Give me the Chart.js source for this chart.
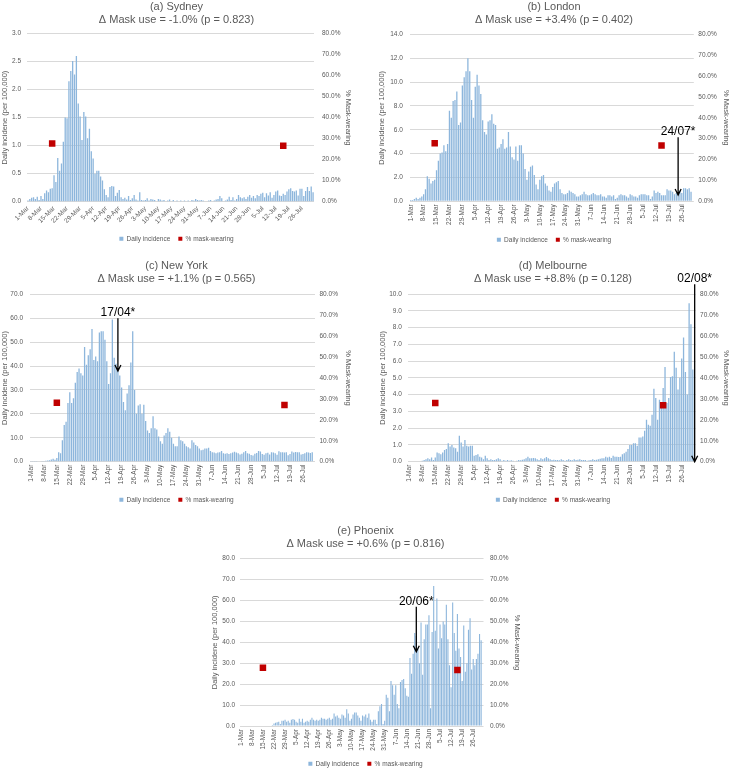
<!DOCTYPE html>
<html>
<head>
<meta charset="utf-8">
<script src="https://cdn.jsdelivr.net/npm/chart.js@4.4.0/dist/chart.umd.min.js"></script>
<style>
    body { margin: 0; background: #fff; width: 731px; height: 769px; position: relative; overflow: hidden; }
    canvas { position: absolute; }
</style>
</head>
<body>
<canvas id="sydney" width="365" height="252" style="left:0;top:0"></canvas>
<canvas id="london" width="366" height="253" style="left:365px;top:0"></canvas>
<canvas id="newyork" width="365" height="258" style="left:0;top:255px"></canvas>
<canvas id="melbourne" width="366" height="258" style="left:365px;top:255px"></canvas>
<canvas id="phoenix" width="380" height="267" style="left:180px;top:510px"></canvas>
<script>
'use strict'

// --- categories ---
const months = ['Mar', 'Apr', 'May', 'Jun', 'Jul', 'Aug'];
const monthLengths = [31, 30, 31, 30, 31, 2];
const tickLabels = ['1-Mar', '8-Mar', '15-Mar', '22-Mar', '29-Mar', '5-Apr', '12-Apr', '19-Apr', '26-Apr',
    '3-May', '10-May', '17-May', '24-May', '31-May', '7-Jun', '14-Jun', '21-Jun', '28-Jun',
    '5-Jul', '12-Jul', '19-Jul', '26-Jul'];

// --- daily incidence (per 100,000) ---
const sydneyIncidence = [
    0.02, 0.05, 0.07, 0.08, 0.05, 0.09, 0.03, 0.1, 0.05, 0.15,
    0.2, 0.17, 0.23, 0.24, 0.47, 0.35, 0.78, 0.55, 0.68, 1.07,
    1.5, 1.49, 2.15, 2.33, 2.51, 2.27, 2.6, 1.75, 1.52, 1.1,
    1.6, 1.52, 1.13, 1.3, 0.9, 0.77, 0.5, 0.55, 0.55, 0.45,
    0.38, 0.22, 0.12, 0.08, 0.26, 0.28, 0.27, 0.1, 0.16, 0.21,
    0.08, 0.05, 0.07, 0.04, 0.1, 0.03, 0.06, 0.12, 0.04, 0.02,
    0.17, 0.03, 0.02, 0.03, 0.06, 0.02, 0.05, 0.04, 0.03, 0.01,
    0.05, 0.04, 0.02, 0.03, 0.01, 0.02, 0.04, 0.01, 0.03, 0.01,
    0.02, 0.01, 0.02, 0.01, 0.02, 0.01, 0.02, 0.01, 0.03, 0.02,
    0.05, 0.03, 0.02, 0.03, 0.02, 0.01, 0.01, 0.02, 0.03, 0.01,
    0.02, 0.04, 0.05, 0.1, 0.06, 0.01, 0.02, 0.04, 0.09, 0.03,
    0.08, 0.02, 0.05, 0.12, 0.08, 0.06, 0.08, 0.05, 0.09, 0.12,
    0.07, 0.1, 0.06, 0.12, 0.1, 0.14, 0.16, 0.08, 0.15, 0.11,
    0.17, 0.07, 0.12, 0.18, 0.2, 0.11, 0.1, 0.14, 0.12, 0.18,
    0.22, 0.24, 0.19, 0.18, 0.2, 0.11, 0.23, 0.23, 0.1, 0.19,
    0.26, 0.19, 0.27, 0.17
];
const londonIncidence = [
    0.1, 0.1, 0.2, 0.3, 0.2, 0.3, 0.4, 0.6, 1.0, 2.1,
    1.9, 1.5, 1.7, 1.8, 2.6, 3.4, 4.0, 4.1, 4.7, 4.2,
    4.8, 7.6, 7.0, 8.4, 8.5, 9.2, 6.4, 6.6, 9.7, 10.4,
    10.9, 12.0, 10.9, 8.5, 7.0, 9.6, 10.6, 9.7, 9.0, 6.8,
    5.8, 5.6, 6.7, 6.8, 7.3, 6.5, 6.4, 4.4, 4.5, 4.8,
    5.2, 4.4, 4.5, 5.8, 4.6, 3.7, 3.5, 4.6, 3.4, 4.7,
    4.7, 4.0, 2.7, 1.8, 2.5, 2.9, 3.0, 2.2, 1.4, 1.0,
    1.8, 2.1, 2.2, 1.5, 1.3, 0.9, 0.8, 1.2, 1.5, 1.6,
    1.7, 1.0, 0.7, 0.6, 0.6, 0.7, 0.9, 0.8, 0.7, 0.6,
    0.4, 0.4, 0.5, 0.6, 0.8, 0.6, 0.5, 0.5, 0.6, 0.7,
    0.6, 0.5, 0.5, 0.6, 0.4, 0.4, 0.3, 0.5, 0.5, 0.4,
    0.5, 0.2, 0.3, 0.5, 0.6, 0.5, 0.5, 0.4, 0.3, 0.6,
    0.5, 0.4, 0.4, 0.3, 0.5, 0.6, 0.6, 0.6, 0.5, 0.5,
    0.2, 0.4, 0.9, 0.7, 0.8, 0.7, 0.5, 0.5, 0.5, 1.0,
    0.9, 0.9, 0.8, 0.6, 0.7, 0.8, 0.9, 0.7, 1.1, 1.1,
    1.0, 1.1, 0.8
];
const newYorkIncidence = [
    0.1, 0.1, 0.1, 0.1, 0.2, 0.2, 0.3, 0.3, 0.4, 0.5,
    0.6, 0.9, 1.2, 0.8, 1.5, 4.0, 3.5, 9.0, 15.3, 16.7,
    24.5, 29, 24.5, 26.5, 33, 37.5, 39, 37, 36, 48,
    40.5, 44.5, 47, 55.5, 42.5, 44, 42, 54, 54.5, 54.5,
    51, 42, 32.5, 37, 59.5, 43.5, 41, 38, 36, 31,
    25, 21.5, 28.5, 32, 41.5, 54.5, 30, 20, 23.5, 24,
    20, 23.8, 17, 13, 12, 14, 19, 14, 13.5, 10.5,
    8.5, 7.5, 11, 12, 14, 12.5, 10, 7.5, 6.5, 6.5,
    10.5, 9, 8.5, 7.5, 6.5, 6, 5.5, 9, 8, 7,
    6.5, 5.5, 4.8, 5.0, 5.5, 5.5, 5.8, 4.5, 4, 3.8,
    3.5, 3.8, 4, 4.5, 3.5, 3.3, 3.5, 3.2, 3.5, 3.8,
    4.2, 3.8, 3.5, 3.0, 3.3, 4.0, 4.5, 3.5, 3.3, 2.8,
    2.6, 3.3, 3.6, 4.5, 4.3, 3.2, 2.9, 3.5, 3.7, 3.0,
    4.0, 3.8, 3.5, 2.9, 4.4, 4.0, 4.0, 3.8, 4.0, 2.7,
    3.2, 4.3, 3.8, 4.1, 3.9, 4.0, 3.0, 3.2, 3.5, 4.0,
    3.8, 3.6, 4.0
];
const melbourneIncidence = [
    0, 0, 0, 0, 0, 0, 0.02, 0.05, 0.1, 0.15,
    0.2, 0.15, 0.25, 0.1, 0.25, 0.55, 0.5, 0.45, 0.55, 0.7,
    0.75, 1.1, 0.9, 1.0, 0.85, 0.8, 0.6, 1.55, 1.15, 0.9,
    1.3, 0.95, 0.9, 0.95, 0.95, 0.35, 0.4, 0.45, 0.3, 0.25,
    0.15, 0.35, 0.2, 0.1, 0.15, 0.1, 0.1, 0.15, 0.2, 0.15,
    0.05, 0.1, 0.05, 0.1, 0.05, 0.08, 0.05, 0.03, 0.06, 0.1,
    0.08, 0.12, 0.15, 0.2, 0.3, 0.2, 0.2, 0.22, 0.2, 0.15,
    0.1, 0.2, 0.15, 0.2, 0.28, 0.2, 0.15, 0.1, 0.12, 0.1,
    0.1, 0.08, 0.15, 0.1, 0.05, 0.1, 0.15, 0.1, 0.08, 0.15,
    0.1, 0.12, 0.15, 0.1, 0.1, 0.1, 0.05, 0.08, 0.1, 0.15,
    0.1, 0.12, 0.15, 0.18, 0.2, 0.2, 0.3, 0.25, 0.3, 0.22,
    0.35, 0.3, 0.3, 0.28, 0.3, 0.45, 0.5, 0.6, 0.75, 1.0,
    1.0, 1.1, 1.1, 0.95, 1.45, 1.45, 1.5, 1.85, 2.5, 2.2,
    2.15, 2.8, 4.35, 3.8, 2.5, 3.7, 3.5, 4.4, 5.65, 3.5,
    3.8, 5.05, 5.1, 6.55, 5.6, 4.3, 5.0, 6.15, 7.4, 5.35,
    4.0, 9.45, 8.2, 5.5
];
const phoenixIncidence = [
    0, 0, 0, 0, 0, 0, 0, 0, 0, 0,
    0, 0, 0, 0, 0, 0, 0, 0, 0, 0.2,
    0.5, 1.2, 1.5, 1.8, 2.0, 1.0, 2.5, 2.5, 3.0, 2.0,
    2.5, 1.5, 3.0, 3.3, 3.0, 2.0, 1.5, 3.5, 2.0, 3.5,
    1.5, 2.0, 2.5, 2.0, 3.0, 4.0, 3.0, 2.5, 3.0, 2.5,
    3.0, 4.0, 3.5, 3.5, 3.0, 3.5, 4.0, 3.0, 3.5, 6.0,
    4.5, 5.0, 4.0, 3.5, 5.5, 5.0, 4.0, 8.0, 6.0, 2.5,
    3.5, 5.5, 6.5, 6.5, 5.0, 4.0, 2.5, 5.0, 4.5, 5.5,
    4.0, 6.0, 3.0, 2.0, 3.0, 3.0, 1.0, 7.0, 9.5, 10.5,
    1.0, 2.5, 15.0, 13.5, 7.0, 21.5, 19.5, 15.0, 19.5, 10.5,
    8.5, 21.0, 22.0, 22.5, 18.0, 14.5, 14.0, 32.5, 25.0, 34.5,
    44.5, 43.0, 37.0, 30.0, 49.5, 24.5, 41.5, 48.5, 48.5, 53.0,
    8.5, 45.0, 67.0, 45.5, 61.0, 37.0, 48.5, 42.0, 50.0, 48.5,
    58.0, 41.5, 29.0, 18.5, 59.0, 44.5, 36.0, 53.5, 37.0, 33.0,
    21.5, 48.0, 26.0, 30.0, 46.0, 51.5, 27.0, 32.0, 29.0, 32.0,
    34.5, 44.0, 41.0
];

// --- % mask-wearing (two survey points per city) ---
const sydneyMaskDates = ['14-Mar', '16-Jul'];
const sydneyMask = [27.7, 26.6];
const londonMaskDates = ['14-Mar', '15-Jul'];
const londonMask = [27.8, 26.7];
const newYorkMaskDates = ['15-Mar', '16-Jul'];
const newYorkMask = [28.2, 27.1];
const melbourneMaskDates = ['15-Mar', '16-Jul'];
const melbourneMask = [28.0, 26.9];
const phoenixMaskDates = ['15-Mar', '16-Jul'];
const phoenixMask = [27.9, 26.8];

const FONT = '"Liberation Sans", Arial, sans-serif';
const GREY = '#595959';
const BLUE = '#8DB6DC';
const RED = '#C00000';

const dayLabels = [];
months.forEach(function (m, i) {
    for (let d = 1; d <= monthLengths[i]; d++) dayLabels.push(d + '-' + m);
});

// arrow + date note, placed with the chart's own scales
const arrowNote = {
    id: 'arrowNote',
    afterDraw(chart, args, opts) {
        if (!opts || !opts.text) return;
        const x = chart.scales.x, y = chart.scales.y;
        const px = x.getPixelForValue(x.getLabels().indexOf(opts.date));
        const top = y.getPixelForValue(opts.from);
        const tip = y.getPixelForValue(opts.to);
        const ctx = chart.ctx;
        ctx.save();
        ctx.strokeStyle = '#000';
        ctx.lineWidth = 1.3;
        ctx.beginPath();
        ctx.moveTo(px, top);
        ctx.lineTo(px, tip);
        ctx.moveTo(px - 3, tip - 6);
        ctx.lineTo(px, tip);
        ctx.lineTo(px + 3, tip - 6);
        ctx.stroke();
        ctx.fillStyle = '#000';
        ctx.font = '12px ' + FONT;
        ctx.textAlign = 'center';
        ctx.textBaseline = 'alphabetic';
        ctx.fillText(opts.text, px, top - 2);
        ctx.restore();
    }
};

function drawPanel(p) {
    const b = p.box;
    const leftW = b.plotLeft - b.padL;
    const rightW = b.w - b.padR - b.plotRight;
    const xH = b.h - 24.5 - b.plotBottom;
    const tick = { color: GREY, font: { family: FONT, size: 6.5 } };
    const axisTitle = { color: GREY, font: { family: FONT, size: 7.5 } };

    new Chart(document.getElementById(p.id), {
        type: 'bar',
        data: {
            labels: dayLabels.slice(0, p.days),
            datasets: [{
                type: 'bar',
                label: 'Daily incidence',
                data: p.values,
                yAxisID: 'y',
                backgroundColor: BLUE,
                borderWidth: 0,
                barPercentage: 0.7,
                categoryPercentage: 1,
                order: 1
            }, {
                type: 'line',
                label: '% mask-wearing',
                data: p.maskDates.map(function (d, i) { return { x: d, y: p.mask[i] }; }),
                yAxisID: 'y1',
                showLine: false,
                pointStyle: 'rect',
                pointRadius: 4.6,
                pointHoverRadius: 4.6,
                backgroundColor: RED,
                borderColor: RED,
                borderWidth: 0,
                pointBorderWidth: 0,
                order: 0
            }]
        },
        options: {
            responsive: false,
            animation: false,
            events: [],
            layout: { padding: { left: b.padL, right: b.padR, top: 0, bottom: 0 } },
            scales: {
                x: {
                    grid: { display: false, drawTicks: false },
                    border: { display: false },
                    ticks: Object.assign({}, tick, {
                        autoSkip: false,
                        minRotation: p.rotation,
                        maxRotation: p.rotation,
                        padding: 3,
                        callback: function (v) {
                            const l = this.getLabelForValue(v);
                            return tickLabels.includes(l) ? l : null;
                        }
                    }),
                    afterFit: function (s) { s.height = xH; }
                },
                y: {
                    position: 'left',
                    min: 0,
                    max: p.yMax,
                    grid: { color: '#D9D9D9', drawTicks: false },
                    border: { display: false },
                    ticks: Object.assign({}, tick, {
                        stepSize: p.yStep,
                        padding: b.yTickPad,
                        callback: function (v) { return v.toFixed(1); }
                    }),
                    title: Object.assign({}, axisTitle, {
                        display: true,
                        text: 'Daily incidene (per 100,000)',
                        padding: { top: b.yTitlePad, bottom: 0 }
                    }),
                    afterFit: function (s) { s.width = leftW; }
                },
                y1: {
                    position: 'right',
                    min: 0,
                    max: 80,
                    grid: { display: false, drawTicks: false },
                    border: { display: false },
                    ticks: Object.assign({}, tick, {
                        stepSize: 10,
                        padding: b.y1TickPad,
                        callback: function (v) { return v.toFixed(1) + '%'; }
                    }),
                    title: Object.assign({}, axisTitle, {
                        display: true,
                        text: '% Mask-wearing',
                        padding: { top: b.y1TitlePad, bottom: 0 }
                    }),
                    afterFit: function (s) { s.width = rightW; }
                }
            },
            plugins: {
                title: {
                    display: true,
                    text: p.title,
                    color: GREY,
                    font: { family: FONT, size: 11, weight: 'normal', lineHeight: 13 / 11 },
                    padding: { top: b.titleTop, bottom: b.plotTop - 26 - b.titleTop }
                },
                legend: {
                    position: 'bottom',
                    labels: {
                        boxWidth: 4,
                        boxHeight: 4,
                        padding: 8,
                        color: GREY,
                        font: { family: FONT, size: 6.5 },
                        sort: function (a, c) { return a.datasetIndex - c.datasetIndex; }
                    }
                },
                tooltip: { enabled: false },
                arrowNote: p.note || {}
            }
        },
        plugins: [arrowNote]
    });
}

window.addEventListener('DOMContentLoaded', function () {
    Chart.defaults.font.family = FONT;

    drawPanel({
        id: 'sydney', days: 154, rotation: 45, yMax: 3, yStep: 0.5,
        values: sydneyIncidence, maskDates: sydneyMaskDates, mask: sydneyMask,
        title: ['(a) Sydney', 'Δ Mask use = -1.0% (p = 0.823)'],
        box: { w: 365, h: 252, padL: 0, padR: 12, plotLeft: 27, plotRight: 314, plotTop: 33.5, plotBottom: 201.7,
               titleTop: 0, yTickPad: 6, y1TickPad: 8, yTitlePad: 0.5, y1TitlePad: 0.5 }
    });
    drawPanel({
        id: 'london', days: 154, rotation: 90, yMax: 14, yStep: 2,
        values: londonIncidence, maskDates: londonMaskDates, mask: londonMask,
        title: ['(b) London', 'Δ Mask use = +3.4% (p = 0.402)'],
        note: { date: '24-Jul', from: 5.36, to: 0.53, text: '24/07*' },
        box: { w: 366, h: 253, padL: 12, padR: 0, plotLeft: 44.8, plotRight: 328.8, plotTop: 34.3, plotBottom: 201.3,
               titleTop: 0, yTickPad: 7, y1TickPad: 4.5, yTitlePad: 0.5, y1TitlePad: 0 }
    });
    drawPanel({
        id: 'newyork', days: 154, rotation: 90, yMax: 70, yStep: 10,
        values: newYorkIncidence, maskDates: newYorkMaskDates, mask: newYorkMask,
        title: ['(c) New York', 'Δ Mask use = +1.1% (p = 0.565)'],
        note: { date: '17-Apr', from: 60, to: 37.9, text: '17/04*' },
        box: { w: 365, h: 258, padL: 0, padR: 12, plotLeft: 30, plotRight: 315, plotTop: 39.3, plotBottom: 206.7,
               titleTop: 4.2, yTickPad: 7, y1TickPad: 4.5, yTitlePad: 0, y1TitlePad: 0.2 }
    });
    drawPanel({
        id: 'melbourne', days: 155, rotation: 90, yMax: 10, yStep: 1,
        values: melbourneIncidence, maskDates: melbourneMaskDates, mask: melbourneMask,
        title: ['(d) Melbourne', 'Δ Mask use = +8.8% (p = 0.128)'],
        note: { date: '2-Aug', from: 10.58, to: 0, text: '02/08*' },
        box: { w: 366, h: 258, padL: 10, padR: 0, plotLeft: 43.4, plotRight: 330.6, plotTop: 39, plotBottom: 206.7,
               titleTop: 4.2, yTickPad: 6.5, y1TickPad: 4.5, yTitlePad: 3.8, y1TitlePad: 0.5 }
    });
    drawPanel({
        id: 'phoenix', days: 154, rotation: 90, yMax: 80, yStep: 10,
        values: phoenixIncidence, maskDates: phoenixMaskDates, mask: phoenixMask,
        title: ['(e) Phoenix', 'Δ Mask use = +0.6% (p = 0.816)'],
        note: { date: '20-Jun', from: 57, to: 35.5, text: '20/06*' },
        box: { w: 380, h: 267, padL: 0, padR: 9, plotLeft: 60, plotRight: 303.5, plotTop: 48.7, plotBottom: 216,
               titleTop: 14.2, yTickPad: 5, y1TickPad: 6.5, yTitlePad: 30.5, y1TitlePad: 29.8 }
    });
});
</script>
</body>
</html>
